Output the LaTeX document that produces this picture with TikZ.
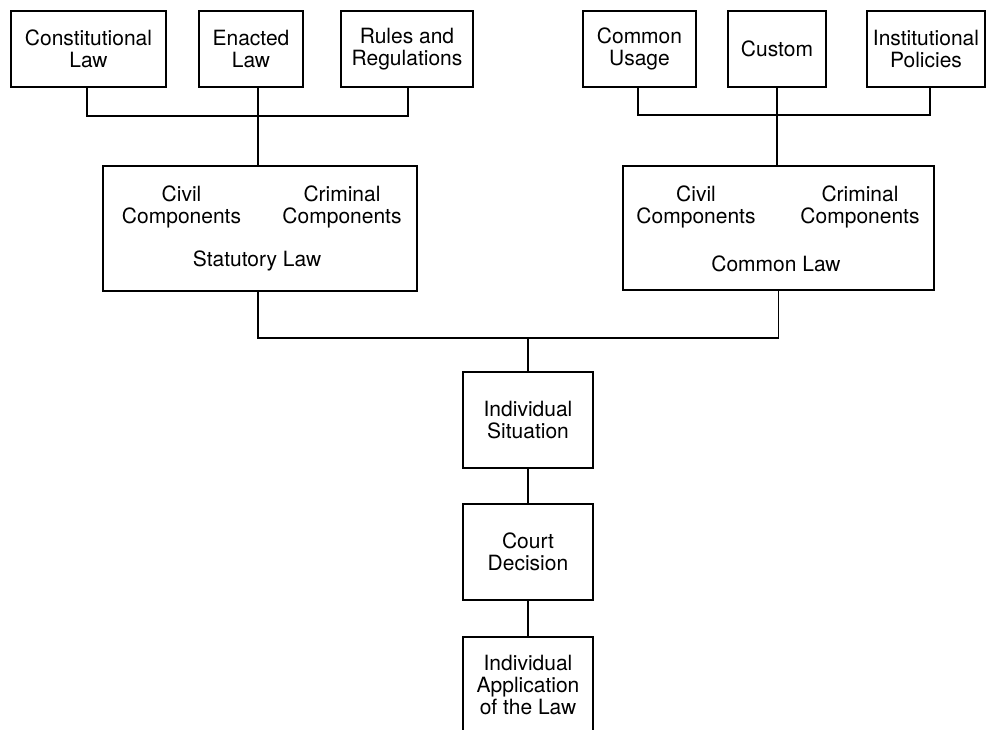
\documentclass[tikz,border=0pt]{standalone}
\usepackage{fontspec}
\setmainfont{TeX Gyre Heros}
\begin{document}
\begin{tikzpicture}[x=1pt,y=-1pt,line width=1.1pt,
  box/.style={draw,rectangle,minimum height=76pt,align=center,inner sep=0pt,
    font=\fontsize{21}{22}\selectfont},
  txt/.style={align=center,inner sep=0pt,font=\fontsize{21}{22}\selectfont}]
\useasboundingbox[fill=white] (0,0) rectangle (986,730);
% sources
\node[box,minimum width=155pt] (const) at (88.5,49) {Constitutional\\Law};
\node[box,minimum width=104pt] (enact) at (251,49) {Enacted\\Law};
\node[box,minimum width=132pt] (rules) at (407,49) {Rules and\\Regulations};
\node[box,minimum width=113pt] (usage) at (639.5,49) {Common\\Usage};
\node[box,minimum width=98pt] (custom) at (777,49) {Custom};
\node[box,minimum width=118pt] (inst) at (926,49) {Institutional\\Policies};
% the two bodies of law
\node[box,minimum width=314pt,minimum height=125pt] (stat) at (260,228.5) {};
\node[txt] (statciv) at (181.5,207) {Civil\\Components};
\node[txt] (statcrim) at (342,207) {Criminal\\Components};
\node[txt] (statname) at (257,261) {Statutory Law};
\node[box,minimum width=311pt,minimum height=124pt] (comm) at (778.5,228) {};
\node[txt] (commciv) at (696,207) {Civil\\Components};
\node[txt] (commcrim) at (860,207) {Criminal\\Components};
\node[txt] (commname) at (776,264) {Common Law};
% the case
\node[box,minimum width=130pt,minimum height=96pt] (sit) at (528,420) {Individual\\Situation};
\node[box,minimum width=130pt,minimum height=96pt] (court) at (528,552) {Court\\Decision};
\node[box,minimum width=130pt,minimum height=96pt] (app) at (528,685) {Individual\\Application\\of the Law};
% connectors
\coordinate (sjoin) at (258,116);
\coordinate (cjoin) at (777,115);
\coordinate (mid) at (528,338);
\draw (const.south -| 87,0) |- (sjoin) -| (rules.south -| 408,0);
\draw (enact.south -| sjoin) -- (stat.north -| sjoin);
\draw (usage.south -| 638,0) |- (cjoin) -| (inst.south -| 930,0);
\draw (custom.south -| cjoin) -- (comm.north -| cjoin);
\draw (stat.south -| sjoin) |- (mid) -| (comm.south);
\draw (mid) -- (sit.north);
\draw (sit) -- (court);
\draw (court) -- (app);
\end{tikzpicture}
\end{document}
